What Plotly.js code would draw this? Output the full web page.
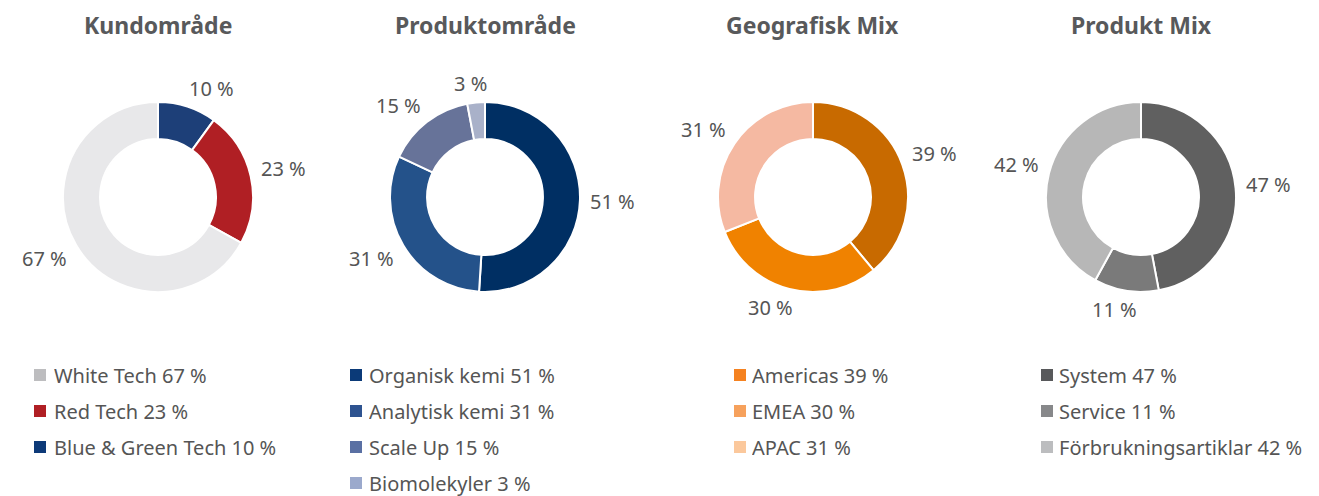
<!DOCTYPE html>
<html><head><meta charset="utf-8">
<script src="https://cdn.plot.ly/plotly-3.0.1.min.js"></script>
<style>html,body{margin:0;padding:0;background:#fff;}#chart{width:1319px;height:496px;}</style>
</head><body><div id="chart"></div>
<script>
// Data
const titles = ["Kundområde", "Produktområde", "Geografisk Mix", "Produkt Mix"];

const kundLabels = ["Blue & Green Tech", "Red Tech", "White Tech"];
const kundValues = [10, 23, 67];
const kundColors = ["#1d3f78", "#b01f24", "#e8e8ea"];
const kundLegendOrder = [2, 1, 0];
const kundLegendColors = ["#0d3a78", "#b01f24", "#bdbdbf"];

const prodLabels = ["Organisk kemi", "Analytisk kemi", "Scale Up", "Biomolekyler"];
const prodValues = [51, 31, 15, 3];
const prodColors = ["#002f63", "#24528a", "#677399", "#a9b1c9"];
const prodLegendOrder = [0, 1, 2, 3];
const prodLegendColors = ["#0b3a78", "#2e5390", "#5a70a3", "#9ba9cc"];

const geoLabels = ["Americas", "EMEA", "APAC"];
const geoValues = [39, 30, 31];
const geoColors = ["#c86a00", "#f08200", "#f5b9a2"];
const geoLegendOrder = [0, 1, 2];
const geoLegendColors = ["#f58220", "#f6a15c", "#fbc89c"];

const mixLabels = ["System", "Service", "Förbrukningsartiklar"];
const mixValues = [47, 11, 42];
const mixColors = ["#606060", "#7a7a7a", "#b7b7b7"];
const mixLegendOrder = [0, 1, 2];
const mixLegendColors = ["#58595b", "#87888a", "#bcbdbf"];

const W = 1319, H = 496;
const groups = [
  {labels: kundLabels, values: kundValues, colors: kundColors, order: kundLegendOrder, lcolors: kundLegendColors, cx: 158, sqx: 34, tx: 53},
  {labels: prodLabels, values: prodValues, colors: prodColors, order: prodLegendOrder, lcolors: prodLegendColors, cx: 485, sqx: 350, tx: 368},
  {labels: geoLabels, values: geoValues, colors: geoColors, order: geoLegendOrder, lcolors: geoLegendColors, cx: 813, sqx: 734, tx: 751},
  {labels: mixLabels, values: mixValues, colors: mixColors, order: mixLegendOrder, lcolors: mixLegendColors, cx: 1141, sqx: 1041, tx: 1058}
];
const cy = 197, R = 95, GAP = 11;
const FONT = "'Noto Sans', 'Open Sans', sans-serif";
const traces = [], annotations = [], shapes = [];
const clamp = v => Math.max(-1, Math.min(1, v));
groups.forEach((g, gi) => {
  traces.push({
    type: 'pie', labels: g.labels, values: g.values, sort: false, direction: 'clockwise', rotation: 0,
    hole: 0.61, marker: {colors: g.colors, line: {color: '#ffffff', width: 2}},
    textinfo: 'none', showlegend: false, hoverinfo: 'label+value',
    domain: {x: [(g.cx - R) / W, (g.cx + R) / W], y: [(H - cy - R) / H, (H - cy + R) / H]}
  });
  // slice value labels placed outside at each slice's mid angle
  const total = g.values.reduce((a, b) => a + b, 0);
  let acc = 0;
  g.values.forEach(v => {
    const mid = (acc + v / 2) / total * 2 * Math.PI; acc += v;
    const ux = Math.sin(mid), uy = -Math.cos(mid);
    const txt = v + ' %';
    const a = txt.length * 5.5, b = 8;
    const px = g.cx + (R + GAP) * ux + a * clamp(ux * 3);
    const py = cy + (R + GAP) * uy + b * clamp(uy * 3);
    annotations.push({
      text: txt, xref: 'paper', yref: 'paper', x: px / W, y: 1 - py / H,
      xanchor: 'center', yanchor: 'middle', showarrow: false,
      font: {family: FONT, size: 20, color: '#555555'}
    });
  });
  annotations.push({
    text: '<b>' + titles[gi] + '</b>', xref: 'paper', yref: 'paper', x: g.cx / W, y: 1 - 25 / H,
    xanchor: 'center', yanchor: 'middle', showarrow: false,
    font: {family: FONT, size: 23, color: '#58595b'}
  });
  g.order.forEach((idx, row) => {
    const yc = 375 + row * 36;
    shapes.push({type: 'rect', xref: 'paper', yref: 'paper',
      x0: g.sqx / W, x1: (g.sqx + 12) / W, y0: 1 - (yc + 6) / H, y1: 1 - (yc - 6) / H,
      fillcolor: g.lcolors[idx], line: {width: 0}});
    annotations.push({
      text: g.labels[idx] + ' ' + g.values[idx] + ' %', xref: 'paper', yref: 'paper',
      x: g.tx / W, y: 1 - yc / H, xanchor: 'left', yanchor: 'middle', showarrow: false,
      height: 25, borderpad: 0, valign: 'middle',
      font: {family: FONT, size: 20, color: '#555555'}
    });
  });
});
Plotly.newPlot('chart', traces, {
  width: W, height: H, margin: {l: 0, r: 0, t: 0, b: 0},
  paper_bgcolor: '#ffffff', plot_bgcolor: '#ffffff',
  annotations: annotations, shapes: shapes, showlegend: false
}, {displayModeBar: false, staticPlot: true});
</script></body></html>
